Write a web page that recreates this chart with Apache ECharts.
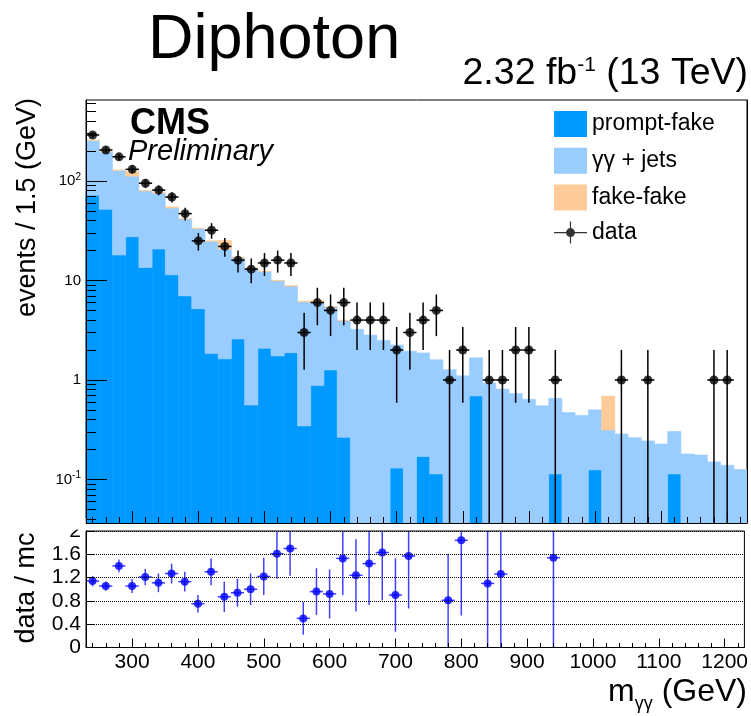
<!DOCTYPE html>
<html>
<head>
<meta charset="utf-8">
<script src="https://cdn.jsdelivr.net/npm/echarts@6/dist/echarts.min.js"></script>
<style>
  html, body { margin: 0; padding: 0; background: #ffffff; }
  #chart { width: 751px; height: 716px; }
</style>
</head>
<body>
<div id="chart"></div>
<script>
// Diphoton invariant mass, 20 GeV bins (centres)
const massBins = [240, 260, 280, 300, 320, 340, 360, 380, 400, 420,
                  440, 460, 480, 500, 520, 540, 560, 580, 600, 620,
                  640, 660, 680, 700, 720, 740, 760, 780, 800, 820,
                  840, 860, 880, 900, 920, 940, 960, 980, 1000, 1020,
                  1040, 1060, 1080, 1100, 1120, 1140, 1160, 1180, 1200, 1220];
const binHalfWidth = 10;

// Background components (stacked, bottom to top)
const promptFake = [72, 52, 18, 27.5, 13.5, 20.7, 11.4, 7.0, 5.2, 1.85,
                    1.63, 2.58, 0.56, 2.08, 1.74, 1.88, 0.345, 0.88, 1.26, 0.265,
                    0, 0, 0, 0.13, 0, 0.17, 0.1135, 0, 0, 0.69,
                    0, 0, 0, 0, 0, 0.1135, 0, 0, 0.125, 0,
                    0, 0, 0, 0, 0.1135, 0, 0, 0, 0, 0];
const diphotonJets = [183, 144, 110, 84.5, 66, 54.8, 42.1, 34.6, 28, 22.95,
                      18.97, 14.4, 12.7, 10.2, 8.2, 6.9, 5.75, 5.1, 4.14, 3.685,
                      3.23, 2.83, 2.5, 2.12, 1.94, 1.70, 1.48, 1.27, 1.1, 0.98,
                      0.93, 0.81, 0.73, 0.64, 0.55, 0.54, 0.47, 0.44, 0.375, 0.314,
                      0.286, 0.263, 0.244, 0.227, 0.19, 0.18, 0.176, 0.15, 0.139, 0.126];
const fakeFake = [3, 1, 1, 12, 0.5, 0.5, 1.5, 0.4, 0.3, 0.2,
                  4.7, 0.2, 0.2, 0.1, 0.1, 0.1, 0.1, 0.3, 0.05, 0.05,
                  0, 0, 0, 0, 0, 0, 0, 0, 0, 0,
                  0, 0, 0, 0, 0, 0, 0, 0, 0, 0.375,
                  0, 0, 0, 0, 0, 0, 0, 0, 0, 0];

// Observed events and their uncertainties
const dataCounts = [290, 205, 175, 131, 95, 81, 69, 47, 25, 32,
                    22, 16, 13, 15, 16, 15, 3, 6, 5, 6,
                    4, 4, 4, 2, 3, 4, 5, 1, 2, 0,
                    1, 1, 2, 2, 0, 1, 0, 0, 0, 0,
                    1, 0, 1, 0, 0, 0, 0, 1, 1, 0];
const dataErr = [17.0, 14.3, 13.2, 11.4, 9.7, 9.0, 8.3, 6.9, 5.0, 5.7,
                 4.7, 4.0, 3.6, 3.9, 4.0, 3.9, 1.73, 2.45, 2.24, 2.45,
                 2, 2, 2, 1.41, 1.73, 2, 2.24, 1, 1.41, 0,
                 1, 1, 1.41, 1.41, 0, 1, 0, 0, 0, 0,
                 1, 0, 1, 0, 0, 0, 0, 1, 1, 0];

// data / mc ratio (null where the point falls outside 0-2)
const ratio = [1.14, 1.055, 1.40, 1.055, 1.21, 1.11, 1.27, 1.13, 0.75, 1.30,
               0.87, 0.94, 1.00, 1.22, 1.61, 1.70, 0.50, 0.96, 0.92, 1.53,
               1.24, 1.44, 1.63, 0.90, 1.57, null, null, 0.81, 1.84, null,
               1.10, 1.26, null, null, null, 1.54, null, null, null, null,
               null, null, null, null, null, null, null, null, null, null];
const ratioErr = [0.09, 0.08, 0.11, 0.12, 0.14, 0.16, 0.17, 0.17, 0.15, 0.23,
                  0.26, 0.24, 0.27, 0.32, 0.43, 0.47, 0.28, 0.40, 0.42, 0.63,
                  0.62, 0.71, 0.82, 0.63, 0.90, null, null, 0.80, 1.29, null,
                  1.10, 1.26, null, null, null, 1.54, null, null, null, null,
                  null, null, null, null, null, null, null, null, null, null];

// Axis ticks
const xMajorTicks = [300, 400, 500, 600, 700, 800, 900, 1000, 1100, 1200];
const xMinorTicks = [240, 260, 280, 320, 340, 360, 380, 420, 440, 460, 480, 520, 540, 560, 580,
                     620, 640, 660, 680, 720, 740, 760, 780, 820, 840, 860, 880, 920, 940, 960, 980,
                     1020, 1040, 1060, 1080, 1120, 1140, 1160, 1180, 1220];
const yMinorTicks = [0.04, 0.05, 0.06, 0.07, 0.08, 0.09, 0.2, 0.3, 0.4, 0.5, 0.6, 0.7, 0.8, 0.9,
                     2, 3, 4, 5, 6, 7, 8, 9, 20, 30, 40, 50, 60, 70, 80, 90, 200, 300, 400, 500, 600];

const X_MIN = 230, X_MAX = 1230;
const Y_MIN = 0.0365, Y_MAX = 652;

const FONT = 'Liberation Sans, Arial, Helvetica, sans-serif';
const COL_PF = '#0099ff', COL_GG = '#99ccff', COL_FF = '#ffcc99';

// stacked rectangles [xLow, xHigh, yLow, yHigh]
function layerRects(below, values) {
  return massBins.map((m, i) => {
    const lo = below[i];
    const hi = lo + values[i];
    return [m - binHalfWidth, m + binHalfWidth, Math.max(lo, Y_MIN), hi];
  });
}
const zeros = massBins.map(() => 0);
const cumPF = promptFake.slice();
const cumGG = promptFake.map((v, i) => v + diphotonJets[i]);
const rectsPF = layerRects(zeros, promptFake);
const rectsGG = layerRects(cumPF, diphotonJets);
const rectsFF = layerRects(cumGG, fakeFake);

function renderBin(params, api) {
  const x0 = api.value(0), x1 = api.value(1), y0 = api.value(2), y1 = api.value(3);
  if (!(y1 > y0)) return null;
  const p0 = api.coord([x0, y0]);
  const p1 = api.coord([x1, y1]);
  const cs = params.coordSys;
  const shape = echarts.graphic.clipRectByRect(
    { x: p0[0], y: p1[1], width: p1[0] - p0[0], height: p0[1] - p1[1] },
    { x: cs.x, y: cs.y, width: cs.width, height: cs.height });
  if (!shape) return null;
  const st = api.style();
  return { type: 'rect', shape: shape,
           style: { fill: st.fill, stroke: st.fill, lineWidth: 0.6 } };
}

function histSeries(name, rects, color) {
  return {
    name: name, type: 'custom', xAxisIndex: 0, yAxisIndex: 0,
    renderItem: renderBin, data: rects,
    encode: { x: [0, 1], y: [2, 3] },
    itemStyle: { color: color }, silent: true, z: 2
  };
}

// error bars [x, y, err]
const dataPoints = [];
const dataBars = [];
massBins.forEach((m, i) => {
  if (dataCounts[i] > 0) {
    dataPoints.push([m, dataCounts[i]]);
    dataBars.push([m, dataCounts[i], dataErr[i]]);
  }
});
const ratioPoints = [];
const ratioBars = [];
massBins.forEach((m, i) => {
  if (ratio[i] !== null) {
    ratioPoints.push([m, ratio[i]]);
    ratioBars.push([m, ratio[i], ratioErr[i]]);
  }
});

function errorBarRenderer(yFloor, color, width) {
  return function (params, api) {
    const x = api.value(0), y = api.value(1), e = api.value(2);
    const cs = params.coordSys;
    const rect = { x: cs.x, y: cs.y, width: cs.width, height: cs.height };
    const top = api.coord([x, y + e]);
    const bot = api.coord([x, Math.max(y - e, yFloor)]);
    const left = api.coord([x - binHalfWidth, y]);
    const right = api.coord([x + binHalfWidth, y]);
    const v = echarts.graphic.clipPointsByRect([top, bot], rect);
    const h = echarts.graphic.clipPointsByRect([left, right], rect);
    const style = { stroke: color, lineWidth: width };
    return { type: 'group', children: [
      { type: 'line', shape: { x1: v[0][0], y1: v[0][1], x2: v[1][0], y2: v[1][1] }, style: style },
      { type: 'line', shape: { x1: h[0][0], y1: h[0][1], x2: h[1][0], y2: h[1][1] }, style: style }
    ] };
  };
}

const chart = echarts.init(document.getElementById('chart'), null, { renderer: 'canvas' });

const tickLine = { color: '#000', width: 1 };
const frameLine = { show: true, lineStyle: { color: '#000', width: 1 } };
const noLabel = { show: false };
const plainNumber = function (v) { return String(v); };

const option = {
  backgroundColor: '#ffffff',
  animation: false,
  textStyle: { fontFamily: FONT },
  grid: [
    { left: 86, right: 4, top: 100, height: 423, show: true, borderColor: '#000', borderWidth: 1, backgroundColor: 'transparent' },
    { left: 86, right: 4.5, top: 531, height: 116.5, show: true, borderColor: '#000', borderWidth: 1, backgroundColor: 'transparent' }
  ],
  xAxis: [
    { type: 'value', gridIndex: 0, min: X_MIN, max: X_MAX, position: 'bottom', z: 10,
      axisLine: frameLine, splitLine: { show: false }, axisLabel: noLabel,
      axisTick: { show: true, inside: true, length: 12, lineStyle: tickLine, customValues: xMajorTicks } },
    { type: 'value', gridIndex: 0, min: X_MIN, max: X_MAX, position: 'bottom', z: 10,
      axisLine: { show: false }, splitLine: { show: false }, axisLabel: noLabel,
      axisTick: { show: true, inside: true, length: 6, lineStyle: tickLine, customValues: xMinorTicks } },
    { type: 'value', gridIndex: 1, min: X_MIN, max: X_MAX, position: 'bottom', z: 10,
      axisLine: frameLine, splitLine: { show: false },
      axisLabel: { show: true, customValues: xMajorTicks, fontSize: 21, color: '#000', margin: 4, fontFamily: FONT, formatter: plainNumber },
      axisTick: { show: true, inside: true, length: 9, lineStyle: tickLine, customValues: xMajorTicks } },
    { type: 'value', gridIndex: 1, min: X_MIN, max: X_MAX, position: 'bottom', z: 10,
      axisLine: { show: false }, splitLine: { show: false }, axisLabel: noLabel,
      axisTick: { show: true, inside: true, length: 4.5, lineStyle: tickLine, customValues: xMinorTicks } }
  ],
  yAxis: [
    { type: 'log', gridIndex: 0, min: Y_MIN, max: Y_MAX, logBase: 10, position: 'left', z: 10,
      axisLine: frameLine, splitLine: { show: false },
      axisTick: { show: true, inside: true, length: 21, lineStyle: tickLine },
      axisLabel: { show: true, showMinLabel: false, showMaxLabel: false, fontSize: 15, color: '#000', margin: 5,
        fontFamily: FONT, lineHeight: 18,
        formatter: function (v) {
          const e = Math.round(Math.log10(v));
          if (e === 0) return '1';
          if (e === 1) return '10';
          return '10{sup|' + (e < 0 ? '-' + (-e) : e) + '}';
        },
        rich: { sup: { fontSize: 10, verticalAlign: 'top', lineHeight: 10, fontFamily: FONT, color: '#000' } } } },
    { type: 'log', gridIndex: 0, min: Y_MIN, max: Y_MAX, logBase: 10, position: 'left', z: 10,
      axisLine: { show: false }, splitLine: { show: false }, axisLabel: noLabel,
      axisTick: { show: true, inside: true, length: 10, lineStyle: tickLine, customValues: yMinorTicks } },
    { type: 'value', gridIndex: 1, min: 0, max: 2, interval: 0.4, position: 'left', z: 10,
      axisLine: frameLine,
      splitLine: { show: true, lineStyle: { type: 'dotted', color: '#000', width: 1 } },
      axisTick: { show: true, inside: true, length: 9, lineStyle: tickLine },
      axisLabel: { show: true, fontSize: 21, color: '#000', margin: 5, fontFamily: FONT,
        formatter: function (v) { return (Math.abs(v - Math.round(v)) < 1e-6) ? String(Math.round(v)) : v.toFixed(1); } } },
    // right-hand frame edge of the upper pad, kept above the filled histograms
    { type: 'log', gridIndex: 0, min: Y_MIN, max: Y_MAX, logBase: 10, position: 'right', z: 10,
      axisLine: frameLine, splitLine: { show: false }, axisLabel: noLabel, axisTick: { show: false } }
  ],
  legend: {
    orient: 'vertical', left: 554, top: 111, padding: 0, itemWidth: 33, itemHeight: 26, itemGap: 10.7,
    textStyle: { fontSize: 23, color: '#000', fontFamily: FONT },
    selectedMode: false,
    data: [
      { name: 'prompt-fake', icon: 'rect', itemStyle: { color: COL_PF, borderWidth: 0 } },
      { name: 'γγ + jets', icon: 'rect', itemStyle: { color: COL_GG, borderWidth: 0 } },
      { name: 'fake-fake', icon: 'rect', itemStyle: { color: COL_FF, borderWidth: 0 } },
      { name: 'data', icon: 'path://M0,10.4H33V11.6H0Z M15.9,0H17.1V22H15.9Z M12,11a4.5,4.5 0 1,1 9,0a4.5,4.5 0 1,1 -9,0Z',
        itemStyle: { color: '#000', borderWidth: 0 } }
    ]
  },
  graphic: [
    { type: 'text', left: 148, top: 9, style: { text: 'Diphoton', font: '63px ' + FONT, fill: '#000' } },
    { type: 'text', right: 3, top: 55,
      style: { text: '2.32 fb{sup|-1} (13 TeV)', font: '37.5px ' + FONT, fill: '#000',
        rich: { sup: { fontSize: 21, verticalAlign: 'top', fontFamily: FONT, fill: '#000' } } } },
    { type: 'text', left: 130, top: 106, z: 10, style: { text: 'CMS', font: 'bold 36px ' + FONT, fill: '#000' } },
    { type: 'text', left: 128, top: 137, z: 10, style: { text: 'Preliminary', font: 'italic 29px ' + FONT, fill: '#000' } },
    { type: 'text', x: 28, y: 98, rotation: Math.PI / 2,
      style: { text: 'events / 1.5 (GeV)', font: '27px ' + FONT, fill: '#000', align: 'right', verticalAlign: 'middle' } },
    { type: 'text', x: 27, y: 588, rotation: Math.PI / 2,
      style: { text: 'data / mc', font: '27px ' + FONT, fill: '#000', align: 'center', verticalAlign: 'middle' } },
    { type: 'text', right: 4, top: 676,
      style: { text: '{m|m}{s|γγ}{m| (GeV)}', fill: '#000',
        rich: { m: { fontSize: 32, fontFamily: FONT, padding: [0, 0, 5, 0], verticalAlign: 'bottom' },
                s: { fontSize: 18, fontFamily: FONT, verticalAlign: 'bottom' } } } },
    // top of the ratio pad's "2" label is hidden behind the upper pad
    { type: 'rect', z: 100, shape: { x: 30, y: 518, width: 55.5, height: 11.5 }, style: { fill: '#ffffff' } }
  ],
  series: [
    histSeries('prompt-fake', rectsPF, COL_PF),
    histSeries('γγ + jets', rectsGG, COL_GG),
    histSeries('fake-fake', rectsFF, COL_FF),
    { name: 'data-err', type: 'custom', xAxisIndex: 0, yAxisIndex: 0, data: dataBars,
      encode: { x: 0, y: 1 }, renderItem: errorBarRenderer(Y_MIN, '#000', 1.5), silent: true, z: 6 },
    { name: 'data', type: 'scatter', xAxisIndex: 0, yAxisIndex: 0, data: dataPoints,
      symbol: 'circle', symbolSize: 9, itemStyle: { color: '#000' }, silent: true, z: 7, clip: true },
    { name: 'ratio-err', type: 'custom', xAxisIndex: 2, yAxisIndex: 2, data: ratioBars,
      encode: { x: 0, y: 1 }, renderItem: errorBarRenderer(0, 'rgba(0,0,255,0.75)', 1.5), silent: true, z: 6 },
    { name: 'ratio', type: 'scatter', xAxisIndex: 2, yAxisIndex: 2, data: ratioPoints,
      symbol: 'circle', symbolSize: 8, itemStyle: { color: '#0000ff' }, silent: true, z: 7, clip: true }
  ]
};

chart.setOption(option);
</script>
</body>
</html>
